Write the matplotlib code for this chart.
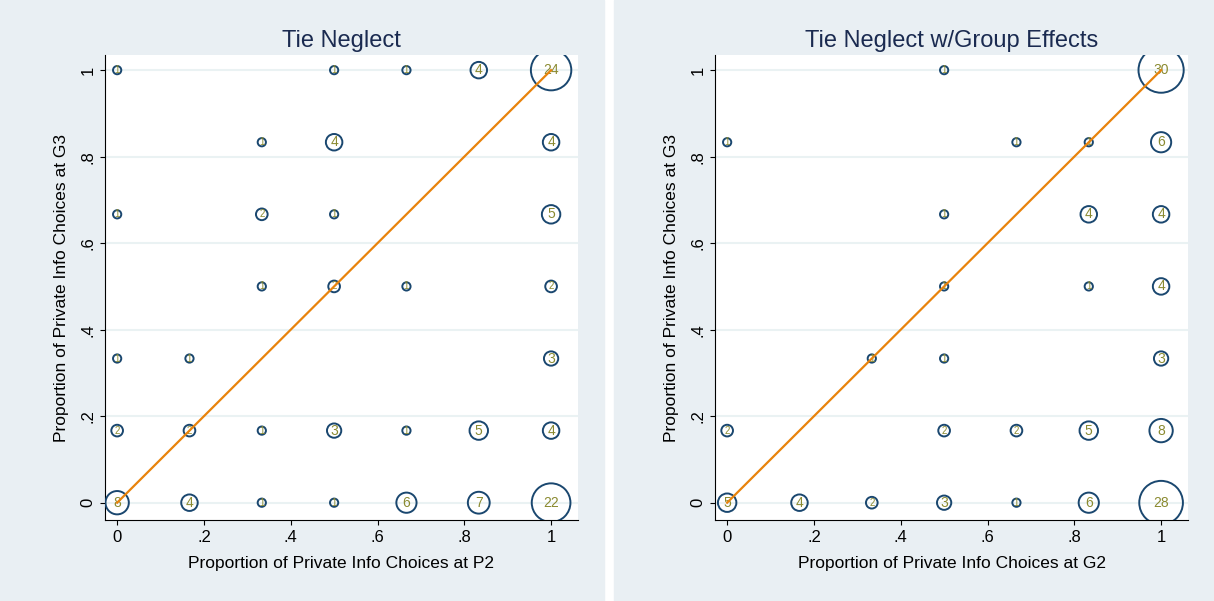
import matplotlib
matplotlib.use("Agg")
import matplotlib.pyplot as plt
from matplotlib.patches import Rectangle
import numpy as np

plt.rcParams['font.family'] = ['Liberation Sans', 'DejaVu Sans']

s = 1/6
# Left panel: Tie Neglect
l_x = [0, .5, 4*s, 5*s, 1,  2*s, .5, 1,  0, 2*s, .5, 1,  2*s, .5, 4*s, 1,  0, s, 1,
       0, s, 2*s, .5, 4*s, 5*s, 1,  0, s, 2*s, .5, 4*s, 5*s, 1]
l_y = [1]*5 + [5*s]*3 + [4*s]*4 + [.5]*4 + [2*s]*3 + [s]*7 + [0]*7
l_n = [1, 1, 1, 4, 24,  1, 4, 4,  1, 2, 1, 5,  1, 2, 1, 2,  1, 1, 3,
       2, 2, 1, 3, 1, 5, 4,  8, 4, 1, 1, 6, 7, 22]
# Right panel: Tie Neglect w/Group Effects
r_x = [.5, 1,  0, 4*s, 5*s, 1,  .5, 5*s, 1,  .5, 5*s, 1,  2*s, .5, 1,
       0, .5, 4*s, 5*s, 1,  0, s, 2*s, .5, 4*s, 5*s, 1]
r_y = [1]*2 + [5*s]*4 + [4*s]*3 + [.5]*3 + [2*s]*3 + [s]*5 + [0]*7
r_n = [1, 30,  1, 1, 1, 6,  1, 4, 4,  1, 1, 4,  1, 1, 3,
       2, 2, 2, 5, 8,  5, 4, 2, 3, 1, 6, 28]

panels = [("Tie Neglect", "Proportion of Private Info Choices at P2", l_x, l_y, l_n),
          ("Tie Neglect w/Group Effects", "Proportion of Private Info Choices at G2", r_x, r_y, r_n)]
ticks = [0, .2, .4, .6, .8, 1]
ticklabels = ["0", ".2", ".4", ".6", ".8", "1"]

W, H = 1214, 601
fig = plt.figure(figsize=(W/100, H/100), dpi=100)
fig.patch.set_facecolor("white")
bg = "#e9eff3"
fig.add_artist(Rectangle((0, 0), 604/W, 1, transform=fig.transFigure, color=bg, zorder=-10))
fig.add_artist(Rectangle((614/W, 0), 600/W, 1, transform=fig.transFigure, color=bg, zorder=-10))

navy = "#1a476f"
olive = "#8a8a30"
for i, (title, xlab, xs, ys, ns) in enumerate(panels):
    x0 = 105 if i == 0 else 715
    ax = fig.add_axes([x0/W, 1-520/H, 473/W, 465/H])
    ax.set_facecolor("white")
    ax.set_xlim(-0.028, 1.062)
    ax.set_ylim(-0.04, 1.035)
    for t in ticks:
        ax.axhline(t, color="#eaf2f3", lw=1.5, zorder=0)
    sizes = [(9*np.sqrt(n)*0.66)**2 for n in ns]
    ax.scatter(xs, ys, s=sizes, facecolors="none", edgecolors=navy, linewidths=1.4, zorder=3)
    for x, y, n in zip(xs, ys, ns):
        ax.text(x, y, str(n), ha="center", va="center", color=olive,
                fontsize=10 if n >= 3 else 7, zorder=4)
    ax.plot([0, 1], [0, 1], color="#e8830c", lw=1.6, zorder=5)
    ax.set_xticks(ticks)
    ax.set_xticklabels(ticklabels, fontsize=12)
    ax.set_yticks(ticks)
    ax.set_yticklabels(ticklabels, fontsize=12, rotation=90, va="center")
    ax.spines["top"].set_visible(False)
    ax.spines["right"].set_visible(False)
    ax.set_title(title, fontsize=17, color="#1a2a50", pad=6)
    ax.set_xlabel(xlab, fontsize=12.5, labelpad=8)
    ax.set_ylabel("Proportion of Private Info Choices at G3", fontsize=12.5, labelpad=8)

fig.savefig("out.png", dpi=100, facecolor=fig.get_facecolor())
